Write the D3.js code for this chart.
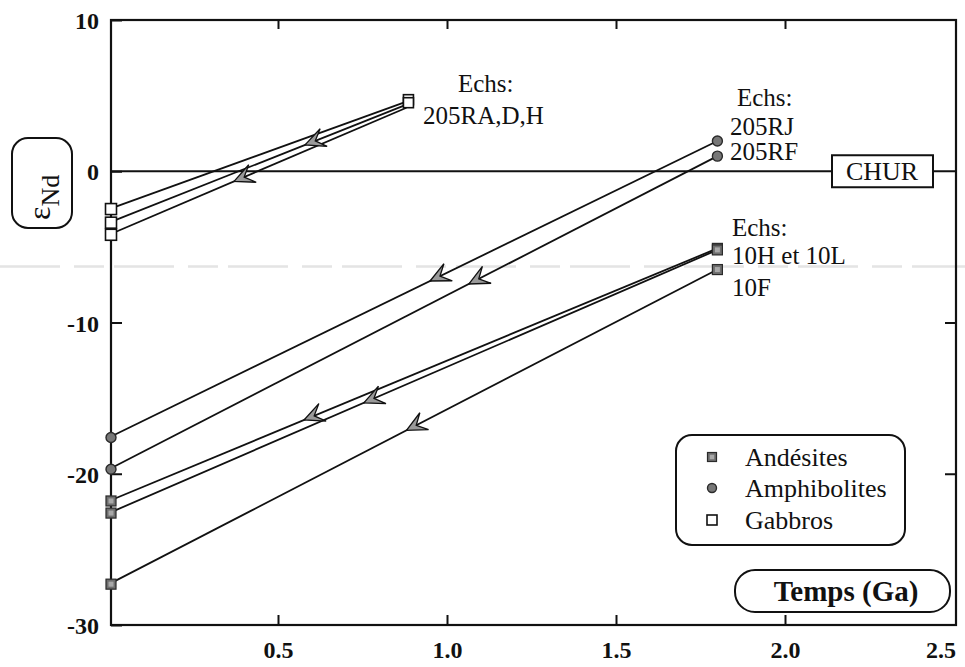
<!DOCTYPE html>
<html>
<head>
<meta charset="utf-8">
<script src="https://cdn.jsdelivr.net/npm/d3@7/dist/d3.min.js"></script>
<style>
  body { margin: 0; background: #fff; }
  svg { display: block; }
  svg text { font-family: "Liberation Serif", "Times New Roman", serif; }
</style>
</head>
<body>
<svg id="chart" width="965" height="667"></svg>
<script>
// ---------- data ----------
const xTicks = [0.5, 1.0, 1.5, 2.0];
const yTicks = [10, 0, -10, -20, -30];
const groups = ["Andésites", "Amphibolites", "Gabbros"];

// each evolution line: from present (t=0) back to model age (t1, e1)
const gabbroLines = [
  { t0: 0, e0: -2.5, t1: 0.88, e1: 4.6 },
  { t0: 0, e0: -3.4, t1: 0.88, e1: 4.4 },
  { t0: 0, e0: -4.2, t1: 0.88, e1: 4.2 }
];
const amphiLines = [
  { t0: 0, e0: -17.6, t1: 1.8, e1: 2.0 },  // 205RJ
  { t0: 0, e0: -19.7, t1: 1.8, e1: 1.0 }   // 205RF
];
const andesLines = [
  { t0: 0, e0: -21.8, t1: 1.8, e1: -5.1 }, // 10H
  { t0: 0, e0: -22.6, t1: 1.8, e1: -5.2 }, // 10L
  { t0: 0, e0: -27.3, t1: 1.8, e1: -6.5 }  // 10F
];
// arrows: group, line index, time at arrow tip
const arrows = [
  { g: "gab", i: 1, t: 0.58 },
  { g: "gab", i: 2, t: 0.37 },
  { g: "amp", i: 0, t: 0.95 },
  { g: "amp", i: 1, t: 1.065 },
  { g: "and", i: 0, t: 0.577 },
  { g: "and", i: 1, t: 0.754 },
  { g: "and", i: 2, t: 0.88 }
];
const chur = 0;
const scanLine = -6.3;

// ---------- scales ----------
const svg = d3.select("#chart");
const x = d3.scaleLinear().domain([0, 2.5]).range([109, 954]);
const y = d3.scaleLinear().domain([-30, 10]).range([625, 20]);
const frame = { left: 111, right: 956, top: y(10), bottom: y(-30) };
const SERIF = "'Liberation Serif', 'Times New Roman', serif";

const lineSets = { gab: gabbroLines, amp: amphiLines, and: andesLines };

function styleText(sel, size, weight) {
  return sel.style("font-family", SERIF).style("font-size", size + "px")
    .style("font-weight", weight || "normal").attr("fill", "#111");
}

// faint scan artifact line
svg.append("line")
  .attr("x1", 0).attr("x2", 965)
  .attr("y1", y(scanLine)).attr("y2", y(scanLine))
  .attr("stroke", "#e4e4e4").attr("stroke-width", 2.5)
  .attr("stroke-dasharray", "60 14 30 10");

// frame
svg.append("rect")
  .attr("x", frame.left).attr("y", frame.top)
  .attr("width", frame.right - frame.left).attr("height", frame.bottom - frame.top)
  .attr("fill", "none").attr("stroke", "#111").attr("stroke-width", 2.2);

// axes
const ax = svg.append("g").attr("transform", `translate(0,${frame.bottom})`)
  .call(d3.axisBottom(x).tickValues(xTicks).tickFormat(d3.format(".1f")).tickSize(-10).tickPadding(16));
const axTop = svg.append("g").attr("transform", `translate(0,${frame.top})`)
  .call(d3.axisTop(x).tickValues(xTicks).tickSize(-9).tickFormat(""));
const ay = svg.append("g").attr("transform", `translate(${frame.left},0)`)
  .call(d3.axisLeft(y).tickValues(yTicks).tickFormat(d => String(d)).tickSize(-11).tickPadding(12));
const ayR = svg.append("g").attr("transform", `translate(${frame.right},0)`)
  .call(d3.axisRight(y).tickValues([-10, -20]).tickSize(-11).tickFormat(""));
[ax, axTop, ay, ayR].forEach(g => {
  g.attr("font-family", null).attr("font-size", null);
  g.select(".domain").remove();
  g.selectAll("line").attr("stroke", "#111").attr("stroke-width", 2);
  styleText(g.selectAll("text"), 24, "bold");
});
ay.selectAll(".tick text").attr("dy", "0.36em");
// 2.5 label flush to right axis
styleText(svg.append("text").attr("x", x(2.5) + 2).attr("y", frame.bottom + 33)
  .attr("text-anchor", "end"), 24, "bold").text("2.5");

// CHUR line
svg.append("line")
  .attr("x1", frame.left).attr("x2", frame.right)
  .attr("y1", y(chur)).attr("y2", y(chur))
  .attr("stroke", "#111").attr("stroke-width", 2);
const churG = svg.append("g");
churG.append("rect").attr("x", 832).attr("y", y(chur) - 16).attr("width", 101).attr("height", 32)
  .attr("fill", "#fff").attr("stroke", "#111").attr("stroke-width", 2);
styleText(churG.append("text").attr("x", 882).attr("y", y(chur) + 9).attr("text-anchor", "middle"), 26)
  .text("CHUR");

// evolution lines
Object.values(lineSets).forEach(set => {
  svg.append("g").selectAll("line").data(set).join("line")
    .attr("x1", d => x(d.t0)).attr("y1", d => y(d.e0))
    .attr("x2", d => x(d.t1)).attr("y2", d => y(d.e1))
    .attr("stroke", "#111").attr("stroke-width", 1.8);
});

// arrowheads
const arrowPath = "M0,0 L20,-9.5 L11,0 L20,9.5 Z";
arrows.forEach(a => {
  const d = lineSets[a.g][a.i];
  const e = d.e0 + (d.e1 - d.e0) * (a.t - d.t0) / (d.t1 - d.t0);
  const px = x(a.t), py = y(e);
  const ang = Math.atan2(y(d.e1) - y(d.e0), x(d.t1) - x(d.t0)) * 180 / Math.PI;
  svg.append("path").attr("d", arrowPath)
    .attr("transform", `translate(${px},${py}) rotate(${ang})`)
    .attr("fill", "#9a9a9a").attr("stroke", "#111").attr("stroke-width", 1.3)
    .attr("stroke-linejoin", "miter");
});

// markers
function andesMarker(g, cx, cy, s) {
  g.append("rect").attr("x", cx - s / 2).attr("y", cy - s / 2).attr("width", s).attr("height", s)
    .attr("fill", "#6e6e6e").attr("stroke", "#2a2a2a").attr("stroke-width", 1.2);
  g.append("rect").attr("x", cx - s / 4).attr("y", cy - s / 4).attr("width", s / 2).attr("height", s / 2)
    .attr("fill", "#a8a8a8");
}
function amphMarker(g, cx, cy, r) {
  g.append("circle").attr("cx", cx).attr("cy", cy).attr("r", r)
    .attr("fill", "#777").attr("stroke", "#2a2a2a").attr("stroke-width", 1.4);
}
function gabMarker(g, cx, cy, s) {
  g.append("rect").attr("x", cx - s / 2).attr("y", cy - s / 2).attr("width", s).attr("height", s)
    .attr("fill", "#fff").attr("stroke", "#111").attr("stroke-width", 1.6);
}
const mk = svg.append("g");
gabbroLines.forEach(d => { gabMarker(mk, x(d.t0) + 2, y(d.e0), 11); });
gabbroLines.slice(0, 2).forEach(d => { gabMarker(mk, x(d.t1) + 2, y(d.e1) - 2, 10); });
amphiLines.forEach(d => { amphMarker(mk, x(d.t0) + 2, y(d.e0), 5); amphMarker(mk, x(d.t1), y(d.e1), 5); });
andesLines.forEach(d => { andesMarker(mk, x(d.t0) + 2, y(d.e0), 10); andesMarker(mk, x(d.t1), y(d.e1), 10); });

// sample labels
const lab = svg.append("g");
function label(tx, ty, s) { styleText(lab.append("text").attr("x", tx).attr("y", ty), 25).text(s); }
label(458, 92, "Echs:");
label(423, 124, "205RA,D,H");
label(737, 106, "Echs:");
label(730, 135, "205RJ");
label(730, 160, "205RF");
label(732, 236, "Echs:");
label(732, 264, "10H et 10L");
label(732, 296, "10F");

// legend
const lg = svg.append("g");
lg.append("rect").attr("x", 676).attr("y", 435).attr("width", 229).attr("height", 110)
  .attr("rx", 16).attr("fill", "#fff").attr("stroke", "#111").attr("stroke-width", 2);
const legRows = [457, 488, 520];
andesMarker(lg, 712, legRows[0], 9);
amphMarker(lg, 712, legRows[1], 4.5);
gabMarker(lg, 712, legRows[2], 10);
groups.forEach((g, i) => {
  styleText(lg.append("text").attr("x", 745).attr("y", legRows[i] + 9), 26).text(g);
});

// x axis title box
const xt = svg.append("g");
xt.append("rect").attr("x", 735).attr("y", 570).attr("width", 215).attr("height", 42)
  .attr("rx", 20).attr("fill", "#fff").attr("stroke", "#111").attr("stroke-width", 2);
styleText(xt.append("text").attr("x", 846).attr("y", 601).attr("text-anchor", "middle"), 29, "bold")
  .text("Temps (Ga)");

// y axis title box
const yt = svg.append("g");
yt.append("rect").attr("x", 12).attr("y", 138).attr("width", 60).attr("height", 90)
  .attr("rx", 16).attr("fill", "#fff").attr("stroke", "#111").attr("stroke-width", 2);
const ytx = styleText(yt.append("text").attr("transform", "translate(50,220) rotate(-90)"), 32);
ytx.append("tspan").text("ε");
ytx.append("tspan").attr("dy", 9).style("font-size", "26px").text("Nd");
</script>
</body>
</html>
